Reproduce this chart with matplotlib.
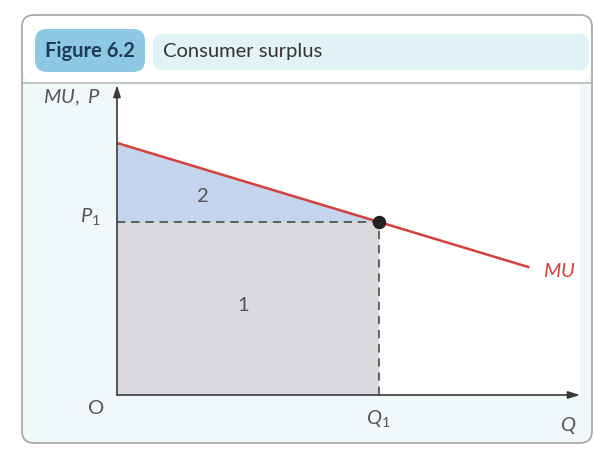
import matplotlib.pyplot as plt
from matplotlib.patches import FancyBboxPatch
import numpy as np

plt.rcParams['font.family'] = ['Lato', 'DejaVu Sans']
plt.rcParams['mathtext.fontset'] = 'custom'
plt.rcParams['mathtext.it'] = 'Lato:italic'
plt.rcParams['mathtext.rm'] = 'Lato'

# chart values (axis units 0..10)
mu_q = [0.0, 8.88]
mu_p = [8.13, 4.13]
q1 = 5.65
p1 = np.interp(q1, mu_q, mu_p)

fig = plt.figure(figsize=(5.95, 4.5), dpi=100)

# panel background, drawn in pixel coordinates
bg = fig.add_axes([0, 0, 1, 1])
bg.set_xlim(0, 595)
bg.set_ylim(450, 0)
bg.axis('off')
bg.add_patch(FancyBboxPatch((22, 15), 570, 428, boxstyle='round,pad=0,rounding_size=12',
                            fc='#f1f8fa', ec='#a9aaaa', lw=1.3))
bg.add_patch(FancyBboxPatch((23, 16), 568, 66, boxstyle='round,pad=0,rounding_size=11',
                            fc='white', ec='none'))
bg.plot([22, 592], [83, 83], c='#b5b7b7', lw=1.1)
bg.add_patch(FancyBboxPatch((35, 29), 110, 43, boxstyle='round,pad=0,rounding_size=12',
                            fc='#8ec9e3', ec='none'))
bg.add_patch(FancyBboxPatch((153, 34), 436, 36, boxstyle='round,pad=0,rounding_size=10',
                            fc='#e2f3f8', ec='none'))
bg.text(90, 51, 'Figure 6.2', ha='center', va='center', fontsize=14.5,
        fontweight='bold', color='#1e3b58')
bg.text(163, 52, 'Consumer surplus', ha='left', va='center', fontsize=14.5,
        color='#333333')

ax = fig.add_axes([117 / 595, 55 / 450, 463 / 595, 310 / 450])
ax.set_xlim(0, 10)
ax.set_ylim(0, 10)
ax.set_facecolor('white')
for s in ax.spines.values():
    s.set_visible(False)
ax.set_xticks([])
ax.set_yticks([])

# areas
ax.fill_between([0, q1], 0, p1, color='#d9d9de', lw=0)
ax.fill_between(mu_q[:1] + [q1], [mu_p[0], p1], p1, color='#c3d4ec', lw=0)

# dashed lines
ax.plot([0, q1], [p1, p1], ls=(0, (5, 3.5)), c='#4a4a4a', lw=1.2)
ax.plot([q1, q1], [0, p1], ls=(0, (5, 3.5)), c='#4a4a4a', lw=1.2)

# MU curve and point
ax.plot(mu_q, mu_p, c='#d6403c', lw=1.8)
ax.scatter([q1], [p1], s=75, c='#222222', zorder=5)

# axes arrows
for tip in [(0, 10), (10, 0)]:
    ax.annotate('', xy=tip, xytext=(0, 0),
                arrowprops=dict(arrowstyle='-|>,head_length=0.7,head_width=0.22',
                                color='#3a3a3a', lw=1.2, shrinkA=0, shrinkB=0),
                annotation_clip=False)

lab = dict(fontsize=14.5, color='#555555', clip_on=False)
ax.text(-0.37, 9.6, r'$MU,\ P$', ha='right', va='center', **lab)
ax.text(-0.35, 5.75, r'$P_1$', ha='right', va='center', **lab)
ax.text(-0.45, -0.45, 'O', ha='center', va='center', **lab)
ax.text(q1, -0.75, r'$Q_1$', ha='center', va='center', **lab)
ax.text(9.75, -0.97, r'$Q$', ha='center', va='center', **lab)
ax.text(9.2, 4.0, r'$MU$', ha='left', va='center', fontsize=14.5,
        color='#d6403c', clip_on=False)
ax.text(1.86, 6.4, '2', ha='center', va='center', **lab)
ax.text(2.72, 2.9, '1', ha='center', va='center', **lab)

fig.savefig('out.png', dpi=100)
